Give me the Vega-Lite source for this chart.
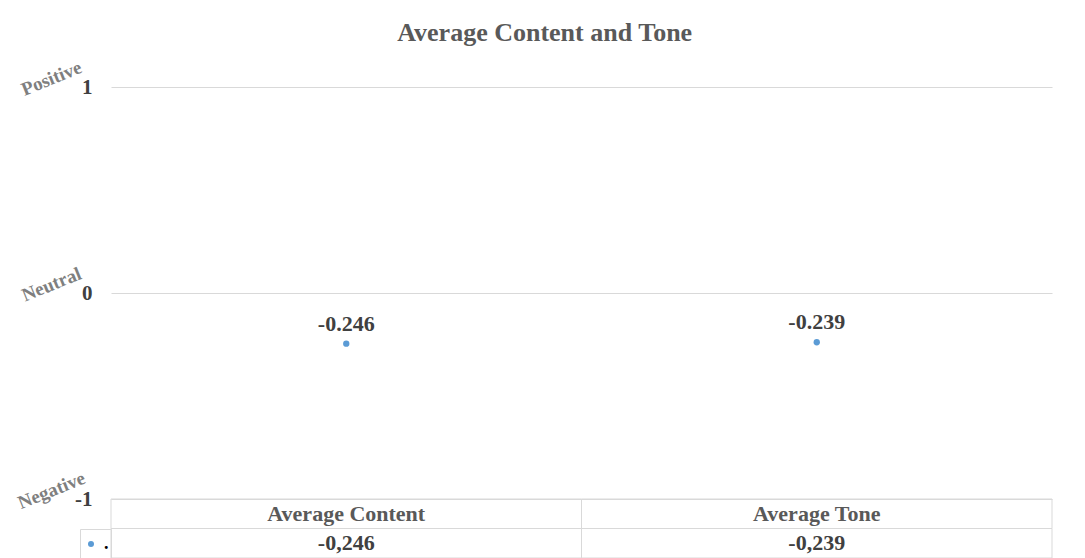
{
  "$schema": "https://vega.github.io/schema/vega-lite/v6.json",
  "padding": {"left": 14, "top": 19, "right": 33, "bottom": 0},
  "title": {"text": "Average Content and Tone", "font": "Liberation Serif", "fontSize": 26, "fontWeight": "bold", "color": "#595959", "anchor": "middle", "offset": 12, "dx": 11},
  "bounds": "flush",
  "spacing": 0,
  "config": {"view": {"stroke": null}, "font": "Liberation Serif"},
  "datasets": {
    "scores": [
      {"measure": "Average Content", "value": -0.246, "series": "."},
      {"measure": "Average Tone", "value": -0.239, "series": "."}
    ]
  },
  "vconcat": [
    {
      "width": 941,
      "height": 412,
      "data": {"name": "scores"},
      "transform": [{"calculate": "toString(datum.value)", "as": "label"}],
      "layer": [
        {
          "mark": {"type": "point", "filled": true, "size": 40, "opacity": 1},
          "encoding": {
            "x": {"field": "measure", "type": "nominal", "sort": null, "scale": {"paddingInner": 0, "paddingOuter": 0}, "axis": null},
            "y": {
              "field": "value", "type": "quantitative",
              "scale": {"domain": [-1, 1], "nice": false, "zero": false},
              "axis": {"orient": "left", "values": [-1, 0, 1], "labelExpr": "toString(datum.value)", "grid": true, "gridColor": "#d9d9d9", "gridWidth": 1, "domain": false, "ticks": false, "tickSize": 0, "labelPadding": 19, "labelFont": "Liberation Serif", "labelFontSize": 21, "labelFontWeight": "bold", "labelColor": "#404040", "labelFlush": false, "labelOverlap": false, "title": null}
            },
            "color": {
              "field": "series", "type": "nominal",
              "scale": {"range": ["#5b9bd5"]},
              "legend": {"orient": "none", "legendX": -31, "legendY": 442, "title": null, "symbolType": "circle", "symbolSize": 36, "symbolStrokeWidth": 0, "labelFont": "Liberation Serif", "labelFontSize": 18, "labelFontWeight": "bold", "labelColor": "#000000", "labelOffset": 4, "padding": 2, "clipHeight": 26, "strokeColor": "#d9d9d9"}
            }
          }
        },
        {
          "mark": {"type": "text", "dy": -20, "fontSize": 22, "fontWeight": "bold", "color": "#404040", "font": "Liberation Serif"},
          "encoding": {
            "x": {"field": "measure", "type": "nominal", "sort": null, "scale": {"paddingInner": 0, "paddingOuter": 0}, "axis": null},
            "y": {
              "field": "value", "type": "quantitative",
              "scale": {"domain": [-1, 1], "nice": false, "zero": false},
              "axis": {"orient": "left", "values": [-1, 0, 1], "labelExpr": "datum.value == 1 ? 'Positive' : datum.value == 0 ? 'Neutral' : 'Negative'", "grid": false, "domain": false, "ticks": false, "tickSize": 0, "labelAngle": -22, "labelAlign": "center", "labelBaseline": "middle", "labelPadding": 60, "labelOffset": -9, "labelFont": "Liberation Serif", "labelFontSize": 19, "labelFontWeight": "bold", "labelColor": "#7f7f7f", "labelFlush": false, "labelOverlap": false, "labelBound": false, "title": null}
            },
            "text": {"field": "label", "type": "nominal"}
          }
        }
      ],
      "resolve": {"axis": {"y": "independent"}}
    },
    {
      "width": 941,
      "height": 59,
      "data": {"name": "scores"},
      "transform": [
        {"calculate": "replace(toString(datum.value), '.', ',')", "as": "valueText"},
        {"fold": ["measure", "valueText"], "as": ["row", "cell"]}
      ],
      "encoding": {
        "x": {"field": "measure", "type": "nominal", "sort": null, "scale": {"paddingInner": 0, "paddingOuter": 0}, "axis": null},
        "y": {"field": "row", "type": "nominal", "sort": ["measure", "valueText"], "scale": {"paddingInner": 0, "paddingOuter": 0}, "axis": null}
      },
      "layer": [
        {"mark": {"type": "rect", "filled": false, "stroke": "#d9d9d9", "strokeWidth": 1}},
        {
          "mark": {"type": "text", "fontSize": 22, "fontWeight": "bold", "font": "Liberation Serif"},
          "encoding": {
            "text": {"field": "cell", "type": "nominal"},
            "color": {"condition": {"test": "datum.row == 'measure'", "value": "#595959"}, "value": "#404040"}
          }
        }
      ]
    }
  ]
}
